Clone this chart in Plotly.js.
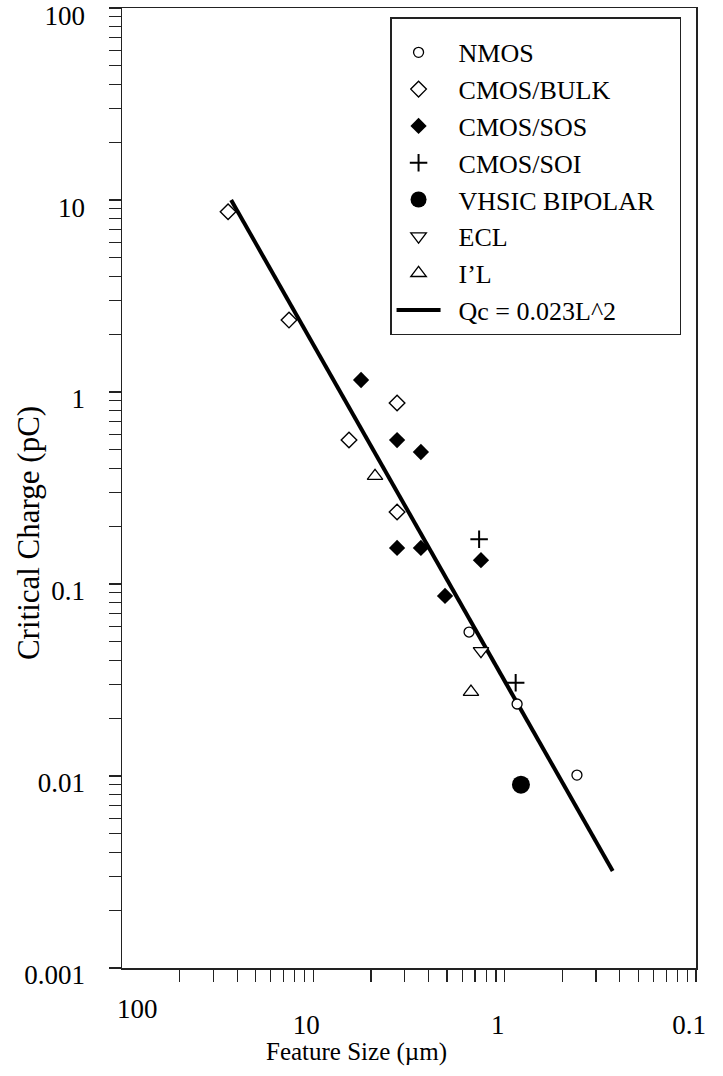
<!DOCTYPE html>
<html>
<head>
<meta charset="utf-8">
<script src="https://cdn.plot.ly/plotly-3.0.1.min.js"></script>
<style>
  html, body { margin: 0; padding: 0; background: #fff; }
  #chart { width: 723px; height: 1076px; }
</style>
</head>
<body>
<div id="chart"></div>
<script>
// Critical charge (pC) against feature size (um) for several device technologies
const nmosL = [1.535, 0.861, 0.419];
const nmosQ = [0.0562, 0.0237, 0.0101];

const bulkL = [27.9, 13.4, 6.51, 3.65, 3.65];
const bulkQ = [8.69, 2.37, 0.562, 0.877, 0.237];

const sosL = [5.63, 3.65, 2.74, 3.65, 2.74, 2.05, 1.33];
const sosQ = [1.155, 0.562, 0.487, 0.154, 0.154, 0.0866, 0.133];

const soiL = [1.36, 0.876];
const soiQ = [0.171, 0.0306];

const bipolarL = [0.822];
const bipolarQ = [0.00901];

const eclL = [1.33];
const eclQ = [0.0448];

const i2lL = [4.76, 1.50];
const i2lQ = [0.365, 0.0274];

// end points of the fitted trend line
const fitL = [26.9, 0.2725];
const fitQ = [10.0, 0.0032];

const xTickVals = [10, 1, 0.1];
const xTickText = ['10', '1', '0.1'];
const yTickVals = [0.001, 0.01, 0.1, 1, 10, 100];
const yTickText = ['0.001', '0.01', '0.1', '1', '10', '100'];

// the feature-size axis carries its minor marks at decade/k (k = 2..9)
const xDecades = [100, 10, 1];
const xMinorVals = xDecades.flatMap(d => [2, 3, 4, 5, 6, 7, 8, 9].map(k => d / k));

const FONT = 'Liberation Serif, Times New Roman, serif';
const INK = '#000';
const pad = '\u00a0\u00a0';

function pts(name, xs, ys, marker, rank) {
  return {
    type: 'scatter', mode: 'markers', name: pad + name,
    x: xs, y: ys, marker: marker, legendrank: rank,
    hoverinfo: 'x+y+name'
  };
}

const traces = [
  {
    type: 'scatter', mode: 'lines', name: pad + 'Qc = 0.023L^2',
    x: fitL, y: fitQ, line: { color: INK, width: 4 }, legendrank: 8
  },
  pts('NMOS', nmosL, nmosQ,
      { symbol: 'circle', size: 10, color: '#fff', line: { color: INK, width: 1.3 } }, 1),
  pts('CMOS/BULK', bulkL, bulkQ,
      { symbol: 'diamond', size: 12, color: '#fff', line: { color: INK, width: 1.4 } }, 2),
  pts('CMOS/SOS', sosL, sosQ,
      { symbol: 'diamond', size: 12.5, color: INK, line: { color: INK, width: 0 } }, 3),
  pts('CMOS/SOI', soiL, soiQ,
      { symbol: 'cross-thin-open', size: 12.5, color: INK, line: { color: INK, width: 2 } }, 4),
  pts('VHSIC BIPOLAR\u00a0\u00a0\u00a0', bipolarL, bipolarQ,
      { symbol: 'circle', size: 18, color: INK, line: { color: INK, width: 0 } }, 5),
  pts('ECL', eclL, eclQ,
      { symbol: 'triangle-down', size: 13.5, color: '#fff', line: { color: INK, width: 1.3 } }, 6),
  pts('I\u2019L', i2lL, i2lQ,
      { symbol: 'triangle-up', size: 13.5, color: '#fff', line: { color: INK, width: 1.3 } }, 7)
];

const axisCommon = {
  type: 'log', showgrid: false, zeroline: false,
  showline: true, mirror: true, linecolor: '#222', linewidth: 1.5,
  ticks: 'outside', ticklen: 12, tickwidth: 1.2, tickcolor: '#222',
  tickmode: 'array', ticklabeloverflow: 'allow',
  tickfont: { family: FONT, size: 27, color: INK }
};

const layout = {
  width: 723, height: 1076,
  margin: { l: 122, r: 27, t: 8, b: 108, pad: 0 },
  paper_bgcolor: '#fff', plot_bgcolor: '#fff',
  font: { family: FONT, size: 27, color: INK },
  showlegend: true,
  xaxis: Object.assign({}, axisCommon, {
    range: [2, -1],
    tickvals: xTickVals, ticktext: xTickText,
    ticklabelstandoff: 20, ticklabelshift: 7,
    minor: { tickmode: 'array', tickvals: xMinorVals, ticks: 'outside', ticklen: 12,
             tickwidth: 1.2, tickcolor: '#222', showgrid: false }
  }),
  yaxis: Object.assign({}, axisCommon, {
    range: [-3.0004, 2.0004],
    tickvals: yTickVals, ticktext: yTickText,
    ticklabelstandoff: 18, ticklabelshift: 7,
    minor: { ticks: 'outside', ticklen: 12, tickwidth: 1.2, tickcolor: '#222',
             dtick: 'D1', showgrid: false }
  }),
  legend: {
    x: 0.467, y: 0.9906, xanchor: 'left', yanchor: 'top',
    bgcolor: '#fff', bordercolor: '#222', borderwidth: 1.5,
    font: { family: FONT, size: 26, color: INK },
    title: { text: '\u00a0', font: { family: FONT, size: 8, color: INK } },
    itemwidth: 44, tracegroupgap: 0, traceorder: 'normal'
  },
  annotations: [
    {
      text: '100', xref: 'x', yref: 'paper', x: Math.log10(100), y: -0.0427,
      xanchor: 'center', yanchor: 'middle', xshift: 15, showarrow: false,
      font: { family: FONT, size: 27, color: INK }
    },
    {
      text: 'Feature Size (\u00b5m)', xref: 'paper', yref: 'paper', x: 0.4077, y: -0.088,
      xanchor: 'center', yanchor: 'middle', showarrow: false,
      font: { family: FONT, size: 25, color: INK }
    },
    {
      text: 'Critical Charge (pC)', xref: 'paper', yref: 'paper', x: -0.1638, y: 0.453,
      xanchor: 'center', yanchor: 'middle', textangle: -90, showarrow: false,
      font: { family: FONT, size: 31, color: INK }
    }
  ]
};

Plotly.newPlot('chart', traces, layout, { displayModeBar: false, staticPlot: true });
</script>
</body>
</html>
